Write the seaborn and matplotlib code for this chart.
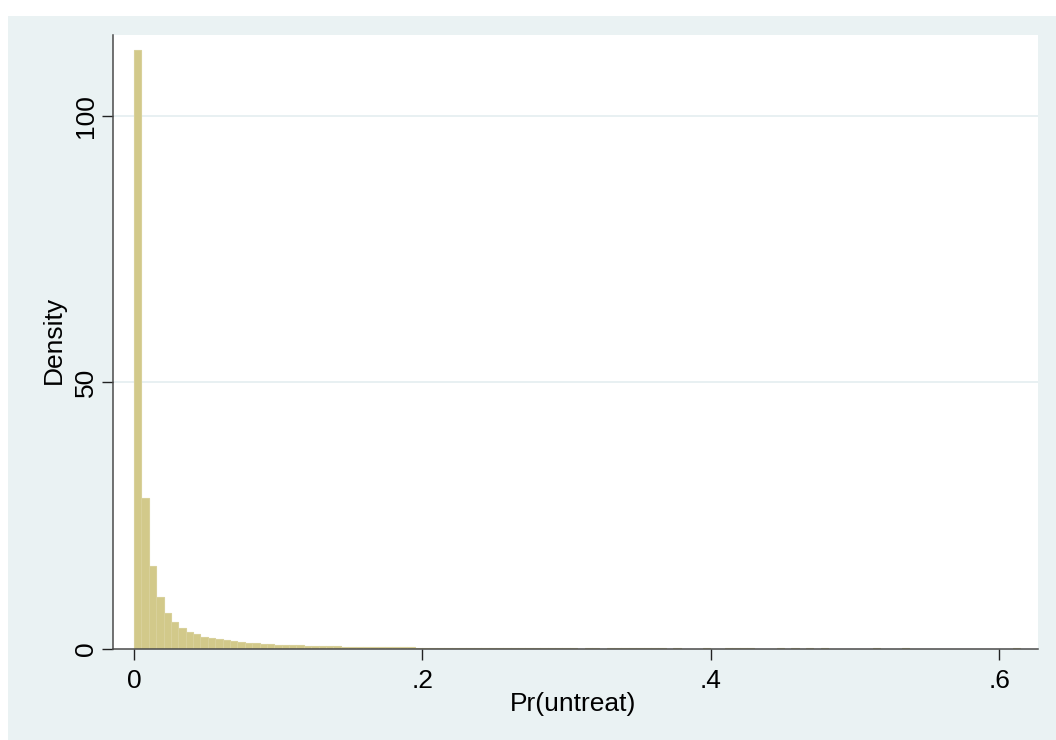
import numpy as np
import pandas as pd
import matplotlib
matplotlib.use("Agg")
import matplotlib.pyplot as plt
from matplotlib.patches import Rectangle
import seaborn as sns

# Histogram of Pr(untreat): bin width and density per bin (120 bins from 0)
bin_width = 0.00512
density = [
    112.5, 28.2, 15.5, 9.7, 6.6, 5.0, 3.9, 3.05, 2.67, 2.2,
    1.9, 1.73, 1.54, 1.35, 1.22, 1.09, 0.98, 0.85, 0.80, 0.74,
    0.68, 0.62, 0.57, 0.53, 0.49, 0.45, 0.41, 0.38, 0.35, 0.32,
    0.30, 0.28, 0.26, 0.24, 0.22, 0.21, 0.20, 0.19, 0.18, 0.17,
    0.16, 0.16, 0.15, 0.15, 0.15, 0.14, 0.14, 0.14, 0.13, 0.13,
    0.13, 0.13, 0.12, 0.12, 0.12, 0.12, 0.12, 0.12, 0.18, 0.18,
    0.0, 0.18, 0.18, 0.0, 0.18, 0.18, 0.18, 0.18, 0.18, 0.18,
    0.18, 0.18, 0.0, 0.18, 0.0, 0.0, 0.0, 0.18, 0.0, 0.0,
    0.18, 0.18, 0.18, 0.18, 0.0, 0.0, 0.0, 0.18, 0.0, 0.18,
    0.0, 0.18, 0.0, 0.18, 0.0, 0.0, 0.0, 0.0, 0.0, 0.0,
    0.18, 0.0, 0.0, 0.0, 0.18, 0.0, 0.0, 0.0, 0.0, 0.0,
    0.0, 0.0, 0.0, 0.0, 0.0, 0.0, 0.0, 0.0, 0.0, 0.18,
]

x_ticks = [0, 0.2, 0.4, 0.6]
x_tick_labels = ["0", ".2", ".4", ".6"]
y_ticks = [0, 50, 100]
y_tick_labels = ["0", "50", "100"]
x_title = "Pr(untreat)"
y_title = "Density"

sns.set_theme(style="white")
plt.rcParams["font.family"] = ["Liberation Sans", "DejaVu Sans"]

W, H = 1056, 740
fig = plt.figure(figsize=(W / 100, H / 100), dpi=100, facecolor="white")
# light graph region behind the plot area
fig.patches.append(Rectangle((8 / W, 0), 1 - 8 / W, 1 - 16 / H,
                             transform=fig.transFigure, facecolor="#EAF2F3",
                             edgecolor="none", zorder=-10))

ax = fig.add_axes([113 / W, 1 - 648.5 / H, (1038 - 113) / W, (648.5 - 35) / H])
ax.set_facecolor("white")

n_bins = len(density)
centers = (np.arange(n_bins) + 0.5) * bin_width
df = pd.DataFrame({"pr_untreat": centers, "density": density})
df = df[df["density"] > 0]

sns.histplot(data=df, x="pr_untreat", weights="density",
             binwidth=bin_width, binrange=(0, n_bins * bin_width),
             stat="count", ax=ax, color="#D2C98A", alpha=1,
             edgecolor="#D8D09A", linewidth=0.8, zorder=2)

# horizontal grid lines
for yv in y_ticks[1:]:
    ax.axhline(yv, color="#E6EFF1", lw=1.3, zorder=0.5)

ax.set_xlim(-0.01456, 0.6267)
ax.set_ylim(0, 115.3)

ax.set_xticks(x_ticks)
ax.set_xticklabels(x_tick_labels)
ax.set_yticks(y_ticks)
ax.set_yticklabels(y_tick_labels, rotation=90, va="center")

ax.tick_params(axis="both", which="major", direction="out", length=7.7,
               width=1.0, color="#222222", labelsize=19, labelcolor="black",
               bottom=True, left=True)
ax.tick_params(axis="x", pad=7)
ax.tick_params(axis="y", pad=3.2)

for side in ["top", "right"]:
    ax.spines[side].set_visible(False)
for side in ["left", "bottom"]:
    ax.spines[side].set_color("#4A4A4A")
    ax.spines[side].set_linewidth(1.1)
    ax.spines[side].set_zorder(3)

ax.set_xlabel(x_title, fontsize=19, color="black")
ax.set_ylabel(y_title, fontsize=19, color="black")
ax.xaxis.set_label_coords(0.4975, -0.0709)
ax.yaxis.set_label_coords(-0.0508, 0.503)
ax.grid(False)

fig.savefig("out.png", dpi=100, facecolor=fig.get_facecolor())
